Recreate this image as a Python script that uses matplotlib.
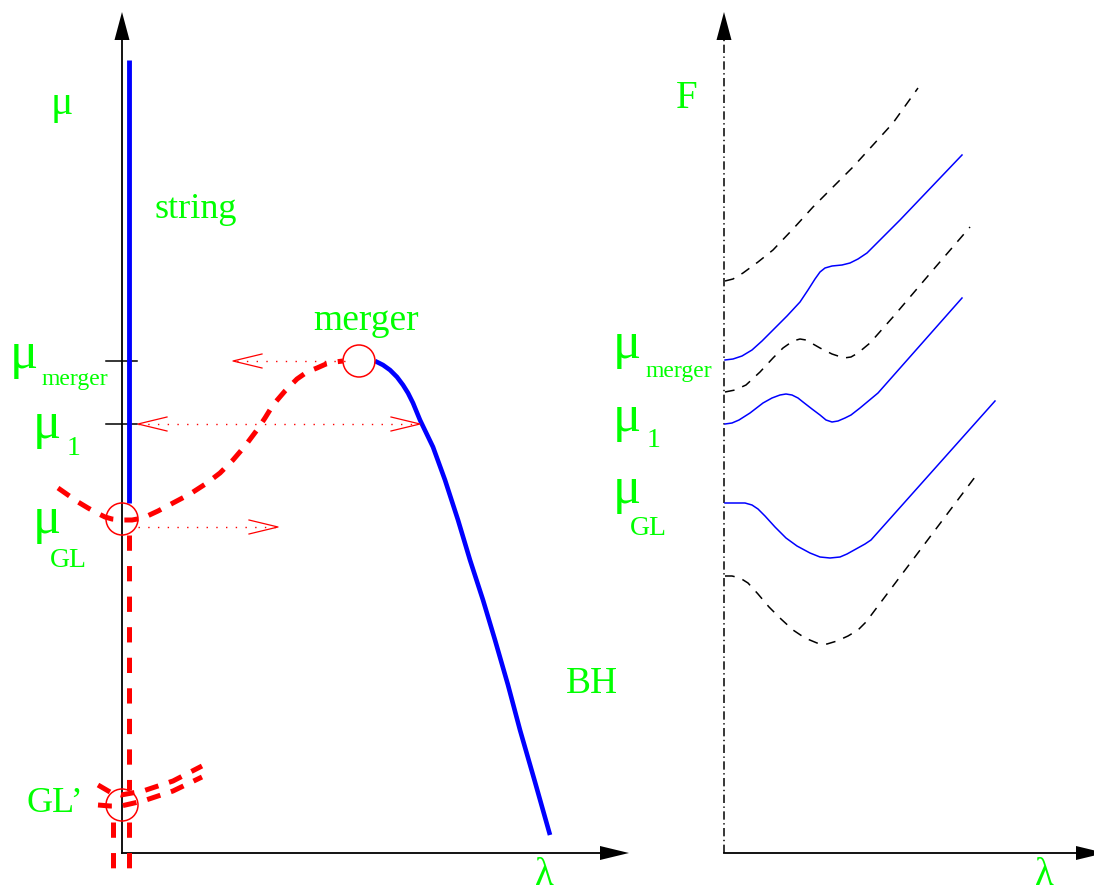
import matplotlib
matplotlib.use("Agg")
import matplotlib.pyplot as plt
from matplotlib.patches import Circle, Polygon

plt.rcParams['lines.scale_dashes'] = False
plt.rcParams['font.family'] = ['Liberation Serif', 'DejaVu Serif']

GREEN = '#00ff00'
RED = '#ff0000'
BLUE = '#0000ff'

# ---- left panel: phase diagram in the (lambda, mu) plane ----
string_x = [129, 129]
string_y = [60, 503]

bh_x = [375, 383, 390, 397, 403, 408, 413, 420, 433, 445, 458, 470, 483, 495, 508, 520, 535, 550]
bh_y = [361, 365, 370, 377, 385, 393, 403, 420, 447, 480, 520, 560, 600, 640, 685, 730, 782, 835]

gl_x = [58, 68, 78, 88, 97, 105, 112, 122, 132, 143, 158, 173, 190, 207, 220, 233,
        245, 257, 265, 273, 285, 297, 307, 317, 326, 335, 343]
gl_y = [488, 495, 502, 508, 513, 517, 519, 520, 520, 518, 511, 503, 494, 483, 473, 460,
        446, 430, 418, 405, 391, 379, 372, 368, 364, 362, 361]

gl_down_x = [129, 129]
gl_down_y = [535, 790]

glp_upper_x = [98, 110, 121, 143, 173, 202]
glp_upper_y = [785, 792, 795, 791, 781, 766]
glp_lower_x = [98, 110, 121, 143, 173, 202]
glp_lower_y = [805, 806, 806, 801, 791, 777]
glp_legs_x = [113, 129]
glp_legs_y = [822, 868]

# marked points (circles) and mu levels on the axis
circle_x = [359, 122, 122]
circle_y = [361, 519, 805]
mu_merger_y = 361
mu_1_y = 424
mu_gl_arrow_y = 527

# dotted arrows: (start, end) along a horizontal line
arrow_merger = (345, 233)
arrow_mu1 = (138, 420)
arrow_gl = (138, 278)

# ---- right panel: free energy vs lambda ----
f_dash1_x = [725, 733, 743, 758, 773, 793, 813, 853, 893, 918]
f_dash1_y = [281, 279, 273, 262, 250, 229, 207, 167, 123, 88]

f_blue1_x = [725, 733, 742, 752, 762, 773, 787, 800, 808, 815, 820, 825, 832, 842,
             850, 858, 867, 880, 900, 962]
f_blue1_y = [360, 359, 356, 350, 341, 330, 316, 302, 290, 279, 272, 268, 266, 265,
             263, 259, 253, 240, 220, 155]

f_dash2_x = [725, 735, 746, 760, 773, 783, 793, 800, 806, 813, 820, 832, 844, 851,
             858, 870, 893, 933, 970]
f_dash2_y = [392, 390, 385, 372, 358, 348, 341, 339, 340, 344, 348, 354, 358, 357,
             353, 343, 317, 270, 227]

f_blue2_x = [725, 732, 739, 750, 763, 772, 780, 786, 792, 798, 803, 812, 820, 826,
             832, 838, 845, 851, 860, 878, 962]
f_blue2_y = [424, 423, 420, 413, 403, 398, 395, 394, 395, 398, 402, 409, 415, 420,
             422, 421, 418, 415, 408, 393, 298]

f_blue3_x = [725, 745, 752, 758, 765, 775, 786, 797, 810, 820, 830, 840, 847, 856,
             865, 871, 995]
f_blue3_y = [503, 503, 505, 509, 516, 527, 538, 546, 553, 557, 558, 557, 554, 549,
             544, 540, 401]

f_dash3_x = [725, 732, 740, 748, 758, 769, 781, 793, 805, 817, 827, 837, 848, 858,
             866, 975]
f_dash3_y = [576, 576, 578, 583, 594, 607, 619, 630, 638, 643, 644, 641, 636, 630,
             622, 477]

fig = plt.figure(figsize=(10.94, 8.94), dpi=100)
ax = fig.add_axes([0, 0, 1, 1])
ax.set_xlim(0, 1094)
ax.set_ylim(894, 0)
ax.axis('off')


def arrowhead(ax, tip, direction, length=28, half=7.5):
    x, y = tip
    if direction == 'up':
        pts = [(x, y), (x - half, y + length), (x + half, y + length)]
    else:
        pts = [(x, y), (x - length, y - half), (x - length, y + half)]
    ax.add_patch(Polygon(pts, closed=True, color='black', lw=0))


def open_head(ax, tip, y, sign, length=29, half=7):
    # sign=-1 points left, +1 points right
    ax.plot([tip - sign * length, tip, tip - sign * length], [y - half, y, y + half],
            color=RED, lw=0.9)


# axes of the left panel
ax.plot([122, 122], [853, 38], color='black', lw=1.3)
ax.plot([122, 602], [853, 853], color='black', lw=1.3)
arrowhead(ax, (122, 12), 'up')
arrowhead(ax, (629, 853), 'right', length=29, half=7)

# axes of the right panel
ax.plot([724, 724], [853, 38], color='black', lw=1.1, dashes=(6, 2.5, 1, 2.5))
ax.plot([724, 1080], [853, 853], color='black', lw=1.3)
arrowhead(ax, (724, 12), 'up')
arrowhead(ax, (1105, 853), 'right', length=29, half=7)

# mu ticks
for yy in (mu_merger_y, mu_1_y):
    ax.plot([106, 137], [yy, yy], color='black', lw=1.1)

# string and black hole branches
ax.plot(string_x, string_y, color=BLUE, lw=3.5, solid_capstyle='butt')
ax.plot(bh_x, bh_y, color=BLUE, lw=3.3, solid_capstyle='butt')

# non-uniform string branches
red_dash = dict(color=RED, lw=3.6, dashes=(10, 8), solid_capstyle='butt')
ax.plot(gl_x, gl_y, **red_dash)
ax.plot(gl_down_x, gl_down_y, color=RED, lw=3.6, dashes=(11, 11))
ax.plot(glp_upper_x, glp_upper_y, **red_dash)
ax.plot(glp_lower_x, glp_lower_y, **red_dash)
for xx in glp_legs_x:
    ax.plot([xx, xx], glp_legs_y, color=RED, lw=3.6, dashes=(11, 11))

for cx, cy in zip(circle_x, circle_y):
    ax.add_patch(Circle((cx, cy), 16, fill=False, ec=RED, lw=1.1, zorder=5))

# dotted arrows
dot = dict(color=RED, lw=1.0, dashes=(1, 6))
ax.plot(arrow_merger, [mu_merger_y] * 2, **dot)
open_head(ax, arrow_merger[1], mu_merger_y, -1)
ax.plot(arrow_mu1, [mu_1_y] * 2, **dot)
open_head(ax, arrow_mu1[0], mu_1_y, -1)
open_head(ax, arrow_mu1[1], mu_1_y, 1)
ax.plot(arrow_gl, [mu_gl_arrow_y] * 2, **dot)
open_head(ax, arrow_gl[1], mu_gl_arrow_y, 1)

# free energy curves
black_dash = dict(color='black', lw=1.1, dashes=(7, 6))
ax.plot(f_dash1_x, f_dash1_y, **black_dash)
ax.plot(f_dash2_x, f_dash2_y, **black_dash)
ax.plot(f_dash3_x, f_dash3_y, **black_dash)
for fx, fy in ((f_blue1_x, f_blue1_y), (f_blue2_x, f_blue2_y), (f_blue3_x, f_blue3_y)):
    ax.plot(fx, fy, color=BLUE, lw=1.1)


def label(x, y, s, size):
    ax.text(x, y, s, color=GREEN, fontsize=size, ha='left', va='baseline')


# left panel labels
label(51, 114, 'μ', 30)
label(154, 218, 'string', 26)
label(313, 330, 'merger', 27)
label(566, 693, 'BH', 27)
label(535, 885, 'λ', 28)
label(26, 812, 'GL’', 26)
label(10, 368, 'μ', 38)
label(42, 385, 'merger', 17)
label(33, 438, 'μ', 38)
label(67, 455, '1', 20)
label(33, 533, 'μ', 38)
label(50, 567, 'GL', 20)

# right panel labels
label(676, 108, 'F', 28)
label(1035, 885, 'λ', 28)
label(613, 358, 'μ', 38)
label(645, 377, 'merger', 17)
label(613, 431, 'μ', 38)
label(647, 447, '1', 20)
label(613, 503, 'μ', 38)
label(630, 535, 'GL', 20)

fig.savefig('out.png', dpi=100)
